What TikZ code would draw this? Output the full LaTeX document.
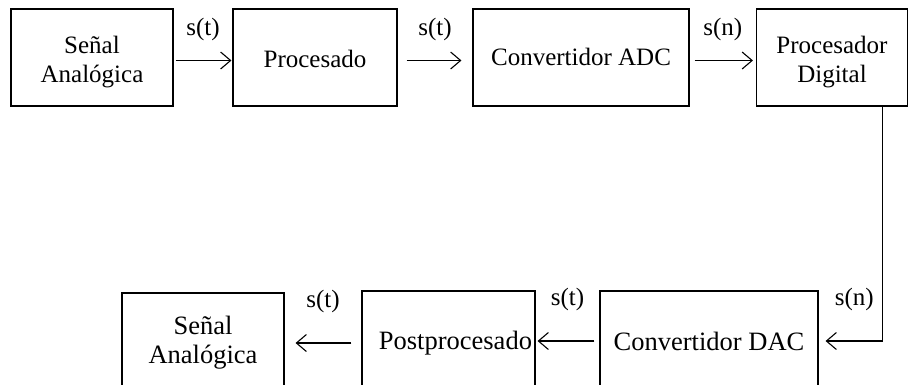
\documentclass[tikz,border=0pt]{standalone}
\usepackage{fontspec}
\setmainfont{Liberation Serif}
\usetikzlibrary{arrows.meta}
\newcommand{\lowtxt}[2]{\raisebox{-#1}[\height][\depth]{\begin{tabular}{@{}c@{}}#2\end{tabular}}}
\begin{document}
\begin{tikzpicture}[x=1pt,y=-1pt,
  box/.style={draw, line width=1.1pt, inner sep=2pt, font=\fontsize{25}{29}\selectfont},
  boxb/.style={draw, line width=1.1pt, inner sep=2pt, font=\fontsize{26.5}{29}\selectfont},
  arr/.style={-{Straight Barb[length=10pt,width=17pt]}, line width=1.1pt},
  lbl/.style={font=\fontsize{25}{29}\selectfont, inner sep=0pt}]
\clip (0,0) rectangle (909,384);
\useasboundingbox (0,0) rectangle (909,384);
% top row
\node[box, minimum width=162pt, minimum height=97pt] (b1) at (92,57.5) {\lowtxt{5pt}{Señal\\Analógica}};
\node[box, minimum width=164pt, minimum height=97pt] (b2) at (315,57.5) {\lowtxt{4pt}{Procesado}};
\node[box, minimum width=216pt, minimum height=97pt] (b3) at (581,57.5) {\lowtxt{2pt}{Convertidor ADC}};
\node[box, minimum width=151pt, minimum height=97pt] (b4) at (832,57.5) {\lowtxt{5pt}{Procesador\\Digital}};
% bottom row
\node[boxb, minimum width=162pt, minimum height=97pt] (a) at (203,341.5) {\lowtxt{2pt}{Señal\\Analógica}};
\node[boxb, minimum width=173pt, minimum height=104pt, text width=167pt, align=right] (b) at (448.5,343) {Postprocesado};
\node[boxb, minimum width=218pt, minimum height=100pt] (c) at (709,341) {Convertidor DAC};
% connectors top
\draw[arr, shorten <=2pt, shorten >=1pt] ([yshift=-3pt]b1.east) -- node[lbl, midway, yshift=31pt] {s(t)} ([yshift=-3pt]b2.west);
\draw[arr, shorten <=9pt, shorten >=11pt] ([yshift=-3pt]b2.east) -- node[lbl, midway, yshift=31pt] {s(t)} ([yshift=-3pt]b3.west);
\draw[arr, shorten <=5pt, shorten >=3pt] ([yshift=-3pt]b3.east) -- node[lbl, midway, yshift=31pt] {s(n)} ([yshift=-3pt]b4.west);
% connectors bottom
\draw[arr, shorten >=7pt] ([xshift=50.5pt]b4.south) |- node[lbl, pos=0.72, yshift=42pt] {s(n)} (c.east);
\draw[arr, shorten <=5pt, shorten >=2pt] (c.west) -- node[lbl, midway, yshift=42pt] {s(t)} (c.west -| b.east);
\draw[arr, shorten <=10pt, shorten >=11pt] (b.west) -- node[lbl, midway, yshift=42pt] {s(t)} (b.west -| a.east);
\end{tikzpicture}
\end{document}
